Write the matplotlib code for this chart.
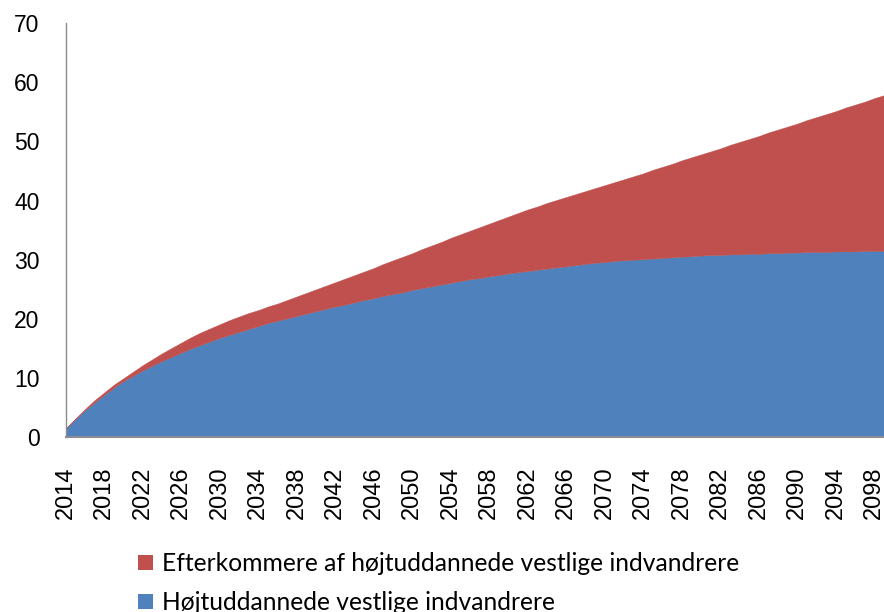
import matplotlib
matplotlib.use("Agg")
import matplotlib.pyplot as plt
from matplotlib.patches import Patch
import numpy as np

years = list(range(2014, 2100))

hoejtuddannede = [
    1.5, 3.1, 4.6, 5.9, 7.2, 8.4, 9.5, 10.4, 11.3, 12.1,
    12.9, 13.6, 14.3, 15.0, 15.6, 16.2, 16.8, 17.3, 17.8, 18.3,
    18.8, 19.3, 19.7, 20.1, 20.5, 20.9, 21.3, 21.7, 22.1, 22.4,
    22.8, 23.2, 23.5, 23.9, 24.2, 24.5, 24.9, 25.2, 25.5, 25.8,
    26.1, 26.4, 26.7, 26.9, 27.2, 27.4, 27.7, 27.9, 28.1, 28.3,
    28.5, 28.7, 28.9, 29.1, 29.3, 29.5, 29.6, 29.8, 29.9, 30.0,
    30.1, 30.2, 30.3, 30.4, 30.5, 30.6, 30.7, 30.8, 30.8, 30.9,
    30.9, 31.0, 31.0, 31.1, 31.1, 31.2, 31.2, 31.3, 31.3, 31.3,
    31.4, 31.4, 31.4, 31.5, 31.5, 31.5,
]

efterkommere = [
    0.0, 0.1, 0.2, 0.4, 0.4, 0.5, 0.5, 0.7, 0.9, 1.1,
    1.3, 1.5, 1.7, 1.9, 2.1, 2.2, 2.3, 2.5, 2.6, 2.7,
    2.7, 2.8, 2.9, 3.1, 3.3, 3.5, 3.7, 3.9, 4.1, 4.4,
    4.6, 4.8, 5.1, 5.4, 5.7, 6.0, 6.2, 6.6, 6.9, 7.2,
    7.6, 7.9, 8.2, 8.6, 8.9, 9.3, 9.6, 10.0, 10.4, 10.7,
    11.1, 11.4, 11.7, 12.0, 12.3, 12.6, 13.0, 13.3, 13.7, 14.1,
    14.5, 15.0, 15.4, 15.8, 16.3, 16.7, 17.1, 17.5, 18.0, 18.5,
    19.0, 19.4, 19.9, 20.4, 20.9, 21.3, 21.8, 22.3, 22.8, 23.3,
    23.7, 24.3, 24.8, 25.2, 25.8, 26.3,
]

labels = ["Højtuddannede vestlige indvandrere",
          "Efterkommere af højtuddannede vestlige indvandrere"]
colors = ["#4F81BD", "#C0504D"]
xticks = list(range(2014, 2099, 4))
yticks = list(range(0, 71, 10))

fig = plt.figure(figsize=(8.84, 6.12), dpi=100)
ax = fig.add_axes([0.0745, 0.2855, 0.9255, 0.677])

ax.stackplot(years, hoejtuddannede, efterkommere, colors=colors,
             linewidth=0.3, edgecolor="face")

ax.set_xlim(2014, 2099)
ax.set_ylim(0, 70)
ax.set_xticks(xticks)
ax.set_xticklabels([str(x) for x in xticks], rotation=90,
                   fontfamily="Liberation Sans", fontsize=17)
ax.set_yticks(yticks)
ax.set_yticklabels([str(y) for y in yticks],
                   fontfamily="Liberation Sans", fontsize=16.5)
ax.tick_params(axis="x", length=0, pad=21)
ax.tick_params(axis="y", length=0, pad=19)

for s in ["top", "right"]:
    ax.spines[s].set_visible(False)
ax.spines["left"].set_color("#8C8C8C")
ax.spines["bottom"].set_color("#8C8C96")
ax.spines["left"].set_linewidth(1.0)
ax.spines["bottom"].set_linewidth(1.5)

handles = [Patch(facecolor=colors[1], edgecolor="none", label=labels[1]),
           Patch(facecolor=colors[0], edgecolor="none", label=labels[0])]
fig.legend(handles=handles, loc="upper left",
           bbox_to_anchor=(0.156, 0.098), frameon=False,
           prop={"family": "Lato", "size": 17.7},
           handlelength=0.62, handleheight=0.55, handletextpad=0.36,
           labelspacing=0.65, borderpad=0, borderaxespad=0)

fig.savefig("out.png", dpi=100)
